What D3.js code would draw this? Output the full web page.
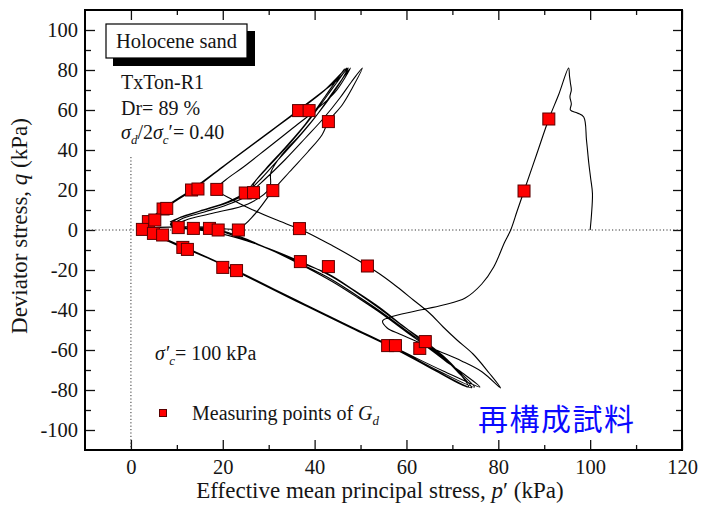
<!DOCTYPE html>
<html>
<head>
<meta charset="utf-8">
<script src="https://cdn.jsdelivr.net/npm/d3@7"></script>
<style>
  body { margin: 0; background: #fff; }
  svg text { font-family: "Liberation Serif", "Times New Roman", serif; fill: #151515; }
</style>
</head>
<body>
<svg width="702" height="511"></svg>
<script>
// stress path p' (kPa), q (kPa)
const initialPath = [
  [100, 0], [100.3, 8], [100.5, 18.3], [100.1, 26], [99.7, 33.5], [99.2, 45], [98.6, 56.5],
  [97.2, 58.5], [95.7, 60], [95.9, 63], [95.6, 66.7], [95.9, 70], [95.7, 73.5], [95.5, 77], [95.3, 81],
  [93.2, 68], [91, 55.5], [88.3, 37.5], [85.6, 19.5], [84.1, 9.5], [82.7, 0], [81.4, -6], [79, -18.5],
  [76.4, -27], [72.8, -34], [68, -37.5], [62, -40.5], [56.5, -43.5], [54.8, -45.5], [55.8, -49],
  [58.5, -52], [61.5, -55], [67, -60.5], [72, -65.5], [76.5, -71], [80.5, -79]
];
const firstReturn = [
  [78, -71.5], [74.5, -62], [71, -55], [68, -48.5], [65, -41.5], [61.5, -35], [58, -28.5], [54.5, -22.5],
  [51.5, -18], [47.5, -12.5], [44, -8], [40.5, -3.7], [36.7, 0.5], [31.5, 5.2], [26.6, 10], [22.2, 15],
  [18.7, 20.5], [20.6, 25], [24.5, 31.5], [29.5, 40.5], [35, 50.5], [40.5, 60.5], [44.5, 69], [47.8, 81]
];
const cycleA = [
  [44, 69], [40, 56], [36, 45], [32, 35], [28.5, 26], [25.5, 19.5], [21, 14], [15, 9.5], [10.5, 6], [8.8, 3], [10.3, 1.2], [14, 0.2],
  [20, -2], [28.5, -8], [36.9, -15.8], [43.5, -23], [49, -31], [54.3, -39.5], [59.5, -48.5], [64.1, -55.8], [68, -63], [71, -70], [73.5, -78.5],
  [66, -70], [57.6, -59.2], [48, -48.5], [36, -35], [23, -20.4], [17, -14], [12.3, -9.2], [8, -5], [4.9, -1.7], [3, 0.2],
  [3.8, 4.2], [7, 10.3], [13.2, 20], [20, 31.5], [27, 43.5], [36.5, 59.7], [42, 69.5], [44, 74], [47, 81]
];
const cycleB = [
  [43, 68], [38.5, 54], [34.5, 43], [30.5, 33], [26.5, 23], [24.9, 18.5], [20, 13], [14.5, 9], [10, 5.5], [8.6, 2.8], [10, 1], [13.6, 0.8],
  [19, -1.5], [27.5, -7.2], [36, -15.5], [43, -22], [48.5, -30], [54, -38.5], [59, -47.5], [63.5, -55.5], [67.5, -62.5], [71, -70.5], [74.2, -78.8],
  [66.5, -70.5], [57.6, -59.6], [48, -49], [36, -35.6], [23.2, -21], [17.2, -14.5], [12.5, -9.8], [8, -5.4], [5, -2], [2.8, 0],
  [3.6, 4], [6.9, 10.5], [13.6, 20.8], [20.2, 32], [27.2, 44], [36.6, 60.2], [42.2, 70], [44.5, 74.5], [46.5, 80.5]
];
const cycleC = [
  [42.5, 67.5], [38, 53], [33.5, 41], [29.5, 31], [26.7, 23], [26.2, 18.7], [22, 13.5], [16, 9], [11, 5.5], [9.4, 2.8], [11, 1.2], [17.1, 0.8],
  [22, -2.5], [29.5, -9], [37, -17], [43.5, -24.5], [49, -32.5], [54.5, -41], [59.5, -49.5], [64, -57], [68, -64], [71.5, -71], [74.8, -78.5],
  [66.8, -70.2], [58, -59.6], [48.3, -49], [36.2, -35.4], [23.4, -20.8], [17, -14.2], [12.2, -9.5], [7.8, -5], [5, -2.2], [3, 0.5],
  [3.9, 4.5], [7.4, 10.8], [14, 20.9], [20.5, 32.4], [27.5, 44.5], [37, 60.5], [42.5, 70.5], [45, 75], [47.3, 81]
];
const cycleD = [
  [44.5, 70], [41, 59], [37, 48], [33, 38], [30.5, 29], [30.2, 21], [25.5, 13], [18, 8.5], [12, 5], [9.8, 2.5], [12, 1], [19, 0],
  [24, -3.5], [31, -10.5], [38, -18.5], [44, -26], [49.5, -34], [55, -42.5], [60, -51], [64.5, -58.5], [68.5, -65.5], [72.5, -72], [76, -78.5],
  [68, -70.5], [58.5, -60], [48.5, -49.2], [36.4, -35.8], [23.5, -21.2], [17.3, -14.6], [12.4, -9.9], [8.1, -5.6], [5.2, -2.3], [3.2, 0.3]
];
const lastLoop = [
  [5.5, 1.2], [10.3, 1.6], [17, 1.5], [23.4, 0.8], [27, 8], [30.9, 19.7], [34.5, 29], [38.5, 39], [41.6, 47.5],
  [43, 54.2], [46, 62.5], [48.2, 71], [50.4, 81],
  [48, 74], [45.5, 66], [42, 56], [38, 46], [33.5, 35], [29, 25], [26.5, 20], [22, 14.5], [16, 10], [11.5, 7], [8.5, 4]
];

// measuring points of Gd
const markerP = [91.0, 85.6, 13.2, 14.6, 18.7, 24.9, 26.7, 30.9, 36.5, 38.8, 43.0, 7.0, 7.8, 3.8, 5.2, 2.5, 4.9, 6.9,
  10.3, 13.6, 17.1, 19.0, 23.4, 36.7, 11.3, 12.3, 20.0, 23.0, 36.9, 43.0, 51.5, 55.9, 57.6, 62.9, 64.1];
const markerQ = [55.5, 19.5, 20.0, 20.5, 20.3, 18.5, 18.7, 19.7, 59.7, 59.7, 54.2, 10.5, 10.8, 4.2, 5.0, 0.3, -1.7, -2.5,
  1.2, 0.8, 0.8, 0.0, 0.0, 0.7, -8.7, -9.7, -18.7, -20.3, -15.8, -18.3, -18.0, -57.8, -57.8, -59.2, -55.8];

const xTicks = [0, 20, 40, 60, 80, 100, 120];
const xMinor = [10, 30, 50, 70, 90, 110];
const yTicks = [-100, -80, -60, -40, -20, 0, 20, 40, 60, 80, 100];
const yMinor = [-90, -70, -50, -30, -10, 10, 30, 50, 70, 90];

const svg = d3.select("svg");
const x = d3.scaleLinear().domain([-10, 120]).range([85, 682]);
const y = d3.scaleLinear().domain([-110, 110]).range([450, 10]);

function styleAxis(g) {
  g.select(".domain").remove();
  g.selectAll("line").attr("stroke", "#111").attr("stroke-width", 1.3);
  g.selectAll("text").attr("font-size", 20.5).attr("font-family", "Liberation Serif").attr("fill", "#151515");
}

const fmt = d => String(d);
svg.append("g").attr("transform", "translate(85,0)")
  .call(d3.axisLeft(y).tickValues(yTicks).tickSize(-10).tickSizeOuter(0).tickPadding(7).tickFormat(fmt)).call(styleAxis);
svg.append("g").attr("transform", "translate(85,0)")
  .call(d3.axisLeft(y).tickValues(yMinor).tickSize(-6).tickSizeOuter(0).tickFormat(() => "")).call(styleAxis);
svg.append("g").attr("transform", "translate(682,0)")
  .call(d3.axisRight(y).tickValues(yTicks).tickSize(-9).tickSizeOuter(0).tickFormat(() => "")).call(styleAxis);
svg.append("g").attr("transform", "translate(682,0)")
  .call(d3.axisRight(y).tickValues(yMinor).tickSize(-6).tickSizeOuter(0).tickFormat(() => "")).call(styleAxis);
svg.append("g").attr("transform", "translate(0,450)")
  .call(d3.axisBottom(x).tickValues(xTicks).tickSize(-10).tickSizeOuter(0).tickPadding(9).tickFormat(fmt)).call(styleAxis);
svg.append("g").attr("transform", "translate(0,450)")
  .call(d3.axisBottom(x).tickValues(xMinor).tickSize(-5).tickSizeOuter(0).tickFormat(() => "")).call(styleAxis);
svg.append("g").attr("transform", "translate(0,10)")
  .call(d3.axisTop(x).tickValues(xTicks).tickSize(-10).tickSizeOuter(0).tickFormat(() => "")).call(styleAxis);
svg.append("g").attr("transform", "translate(0,10)")
  .call(d3.axisTop(x).tickValues(xMinor).tickSize(-5).tickSizeOuter(0).tickFormat(() => "")).call(styleAxis);

// dotted reference lines
svg.append("line").attr("x1", x(-10)).attr("x2", x(120)).attr("y1", y(0)).attr("y2", y(0))
  .attr("stroke", "#333").attr("stroke-width", 1).attr("stroke-dasharray", "1.2,2.2");
svg.append("line").attr("x1", x(0)).attr("x2", x(0)).attr("y1", y(36.5)).attr("y2", y(-110))
  .attr("stroke", "#333").attr("stroke-width", 1).attr("stroke-dasharray", "1.2,2.2");

// stress path
const stressPath = [].concat(initialPath, firstReturn, cycleA, cycleB, cycleC, cycleD, lastLoop);
const line = d3.line().x(d => x(d[0])).y(d => y(d[1])).curve(d3.curveCatmullRom.alpha(0.5));
svg.append("path").datum(stressPath).attr("d", line)
  .attr("fill", "none").attr("stroke", "#000").attr("stroke-width", 1.1).attr("stroke-linejoin", "round");

// markers
svg.append("g").selectAll("rect").data(markerP.map((p, i) => [p, markerQ[i]])).join("rect")
  .attr("x", d => x(d[0]) - 6).attr("y", d => y(d[1]) - 6).attr("width", 12).attr("height", 12)
  .attr("fill", "#ff0000").attr("stroke", "#5a0000").attr("stroke-width", 1);

// frame
svg.append("rect").attr("x", 85).attr("y", 10).attr("width", 597).attr("height", 440)
  .attr("fill", "none").attr("stroke", "#000").attr("stroke-width", 2);

// title box
svg.append("rect").attr("x", 113).attr("y", 31).attr("width", 142).attr("height", 35).attr("fill", "#000");
svg.append("rect").attr("x", 106).attr("y", 24).attr("width", 141).attr("height", 34)
  .attr("fill", "#fff").attr("stroke", "#000").attr("stroke-width", 1.2);
svg.append("text").attr("x", 176.5).attr("y", 48).attr("text-anchor", "middle").attr("font-size", 20.5).text("Holocene sand");

// annotations
svg.append("text").attr("x", 121).attr("y", 89).attr("font-size", 20).text("TxTon-R1");
svg.append("text").attr("x", 121).attr("y", 115).attr("font-size", 20).text("Dr= 89 %");

const ratio = svg.append("text").attr("x", 121).attr("y", 139).attr("font-size", 20);
ratio.append("tspan").attr("font-style", "italic").text("σ");
ratio.append("tspan").attr("font-style", "italic").attr("font-size", 13).attr("dy", 5).text("d");
ratio.append("tspan").attr("dy", -5).text("/2");
ratio.append("tspan").attr("font-style", "italic").text("σ");
ratio.append("tspan").attr("font-style", "italic").attr("font-size", 13).attr("dy", 5).text("c");
ratio.append("tspan").attr("dy", -5).text("′= 0.40");

const conf = svg.append("text").attr("x", 155).attr("y", 360).attr("font-size", 20);
conf.append("tspan").attr("font-style", "italic").text("σ′");
conf.append("tspan").attr("font-style", "italic").attr("font-size", 13).attr("dy", 5).text("c");
conf.append("tspan").attr("dy", -5).text("= 100 kPa");

// legend
svg.append("rect").attr("x", 159.5).attr("y", 409.5).attr("width", 7).attr("height", 7)
  .attr("fill", "#ff0000").attr("stroke", "#5a0000").attr("stroke-width", 1);
const leg = svg.append("text").attr("x", 192).attr("y", 420).attr("font-size", 20);
leg.append("tspan").text("Measuring points of ");
leg.append("tspan").attr("font-style", "italic").text("G");
leg.append("tspan").attr("font-style", "italic").attr("font-size", 13).attr("dy", 5).text("d");

svg.append("text").attr("x", 478).attr("y", 430).attr("font-size", 30).attr("letter-spacing", 1.5)
  .style("font-family", "'Noto Sans CJK JP', sans-serif").style("fill", "#0a0aff").text("再構成試料");

// axis titles
const xt = svg.append("text").attr("x", 380).attr("y", 498).attr("text-anchor", "middle").attr("font-size", 23);
xt.append("tspan").text("Effective mean principal stress, ");
xt.append("tspan").attr("font-style", "italic").text("p");
xt.append("tspan").text("′ (kPa)");

const yt = svg.append("text").attr("transform", "translate(27,226) rotate(-90)").attr("text-anchor", "middle").attr("font-size", 23);
yt.append("tspan").text("Deviator stress, ");
yt.append("tspan").attr("font-style", "italic").text("q");
yt.append("tspan").text(" (kPa)");
</script>
</body>
</html>
